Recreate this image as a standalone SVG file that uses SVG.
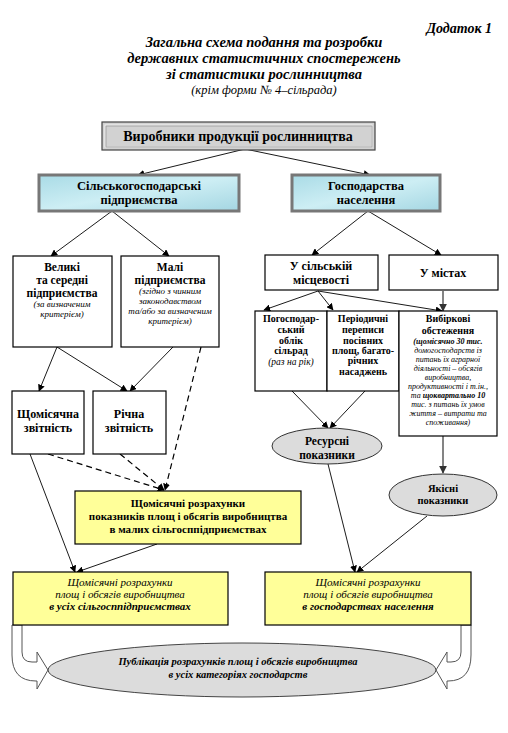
<svg xmlns="http://www.w3.org/2000/svg" width="508" height="733" viewBox="0 0 508 733" font-family="'Liberation Serif', 'DejaVu Serif', serif">
<defs>
<style>
text{font-family:"Liberation Serif","DejaVu Serif",serif;fill:#000;text-anchor:middle}
.t{font-weight:bold;font-style:italic;font-size:14.5px}
.b{font-weight:bold}
.i{font-style:italic}
.box{fill:#fff;stroke:#000;stroke-width:1.2}
.yel{fill:#ffff99;stroke:#000;stroke-width:1.2}
.ell{fill:#dcdcdc;stroke:#333;stroke-width:1}
.ln{fill:none;stroke:#000;stroke-width:0.9}
.dash{fill:none;stroke:#000;stroke-width:1.2;stroke-dasharray:6 4}
.gray{fill:none;stroke:#777;stroke-width:1.8}
.barrow{fill:#fff;stroke:#555;stroke-width:1}
</style>
<linearGradient id="water" x1="0" y1="0" x2="1" y2="1">
<stop offset="0" stop-color="#a9dbe6"/>
<stop offset="0.5" stop-color="#cdeef4"/>
<stop offset="1" stop-color="#a4d6e2"/>
</linearGradient>
<marker id="ah" viewBox="0 0 10 10" refX="9" refY="5" markerWidth="7" markerHeight="7" markerUnits="userSpaceOnUse" orient="auto">
<path d="M0,0 L10,5 L0,10 Z" fill="#000"/>
</marker>
<marker id="ahg" viewBox="0 0 10 10" refX="9" refY="5" markerWidth="8" markerHeight="8" markerUnits="userSpaceOnUse" orient="auto">
<path d="M0,0 L10,5 L0,10 Z" fill="#333"/>
</marker>
</defs>
<rect width="508" height="733" fill="#fff"/>

<g id="title">
<text x="492" y="33" style="text-anchor:end;font-weight:bold;font-style:italic;font-size:14px">Додаток 1</text>
<text class="t" x="264" y="47">Загальна схема подання та розробки</text>
<text class="t" x="264" y="63">державних статистичних спостережень</text>
<text class="t" x="264" y="79">зі статистики рослинництва</text>
<text class="i" x="264" y="94" style="font-size:12.5px">(крім форми № 4–сільрада)</text>
</g>

<g id="connectors">
<line class="ln" x1="245" y1="149" x2="138" y2="175" marker-end="url(#ah)"/>
<line class="ln" x1="245" y1="149" x2="370" y2="175" marker-end="url(#ah)"/>
<line class="ln" x1="112" y1="211" x2="51" y2="256" marker-end="url(#ah)"/>
<line class="ln" x1="112" y1="211" x2="169" y2="256" marker-end="url(#ah)"/>
<line class="ln" x1="368" y1="211" x2="312" y2="255" marker-end="url(#ah)"/>
<line class="ln" x1="368" y1="211" x2="441" y2="255" marker-end="url(#ah)"/>
<line class="ln" x1="318" y1="291" x2="264" y2="310" marker-end="url(#ah)"/>
<line class="ln" x1="318" y1="291" x2="333" y2="310" marker-end="url(#ah)"/>
<line class="ln" x1="318" y1="291" x2="442" y2="311" marker-end="url(#ah)"/>
<line class="gray" x1="443" y1="291" x2="443" y2="311" marker-end="url(#ahg)"/>
<line class="ln" x1="57" y1="347" x2="39" y2="391" marker-end="url(#ah)"/>
<line class="ln" x1="57" y1="347" x2="127" y2="391" marker-end="url(#ah)"/>
<line class="ln" x1="173" y1="347" x2="130" y2="391" marker-end="url(#ah)"/>
<line class="dash" x1="201" y1="347" x2="165" y2="490" marker-end="url(#ah)"/>
<line class="dash" x1="48" y1="454" x2="164" y2="490" marker-end="url(#ah)"/>
<line class="dash" x1="120" y1="454" x2="164" y2="490" marker-end="url(#ah)"/>
<line class="ln" x1="30" y1="454" x2="75" y2="572" marker-end="url(#ah)"/>
<line class="ln" x1="157" y1="544" x2="77" y2="572" marker-end="url(#ah)"/>
<line class="ln" x1="292" y1="391" x2="328" y2="428" marker-end="url(#ah)"/>
<line class="ln" x1="365" y1="391" x2="330" y2="428" marker-end="url(#ah)"/>
<line class="gray" x1="443" y1="436" x2="443" y2="473" marker-end="url(#ahg)"/>
<line class="ln" x1="328" y1="464" x2="355" y2="572" marker-end="url(#ah)"/>
<line class="ln" x1="427" y1="516" x2="357" y2="572" marker-end="url(#ah)"/>
<path class="barrow" d="M12,625 L12,655 Q12,681 36,681 L37,681 L37,689 L48,670 L37,652 L37,662 L32,662 Q22,662 22,652 L22,625 Z"/>
<path class="barrow" d="M471,625 L471,655 Q471,681 448,681 L447,681 L447,689 L436,670 L447,652 L447,662 L451,662 Q461,662 461,652 L461,625 Z"/>
</g>

<g id="producers">
<rect x="102" y="122" width="273" height="28" fill="#d2d2d2" stroke="#444" stroke-width="1.2"/>
<rect x="105" y="125" width="267" height="22" fill="none" stroke="#f2f2f2" stroke-width="1"/>
<rect x="106" y="126" width="266" height="21" fill="none" stroke="#888" stroke-width="0.6"/>
<text class="b" x="238" y="141" style="font-size:14px">Виробники продукції рослинництва</text>
</g>

<g id="agri">
<rect x="39" y="175" width="200" height="36" fill="url(#water)" stroke="#777" stroke-width="3"/>
<text class="b" x="139" y="190" style="font-size:12.5px">Сільськогосподарські</text>
<text class="b" x="139" y="204" style="font-size:12.5px">підприємства</text>
</g>

<g id="households">
<rect x="292" y="175" width="148" height="36" fill="url(#water)" stroke="#777" stroke-width="3"/>
<text class="b" x="366" y="190" style="font-size:12.5px">Господарства</text>
<text class="b" x="366" y="204" style="font-size:12.5px">населення</text>
</g>

<g id="large">
<rect class="box" x="13" y="256" width="99" height="91"/>
<text class="b" x="62" y="271" style="font-size:11.5px">Великі</text>
<text class="b" x="62" y="284" style="font-size:11.5px">та середні</text>
<text class="b" x="62" y="297" style="font-size:11.5px">підприємства</text>
<text class="i" x="62" y="307" style="font-size:9px">(за визначеним</text>
<text class="i" x="62" y="317" style="font-size:9px">критерієм)</text>
</g>

<g id="small">
<rect class="box" x="121" y="256" width="98" height="91"/>
<text class="b" x="170" y="271" style="font-size:11.5px">Малі</text>
<text class="b" x="170" y="284" style="font-size:11.5px">підприємства</text>
<text class="i" x="170" y="294" style="font-size:9px">(згідно з чинним</text>
<text class="i" x="170" y="304" style="font-size:9px">законодавством</text>
<text class="i" x="170" y="314" style="font-size:9px">та/або за визначеним</text>
<text class="i" x="170" y="324" style="font-size:9px">критерієм)</text>
</g>

<g id="rural">
<rect class="box" x="265" y="255" width="113" height="35"/>
<text class="b" x="321" y="270" style="font-size:12px">У сільській</text>
<text class="b" x="321" y="284" style="font-size:12px">місцевості</text>
</g>

<g id="urban">
<rect class="box" x="389" y="255" width="109" height="35"/>
<text class="b" x="443" y="277" style="font-size:12px">У містах</text>
</g>

<g id="farmrecord">
<rect class="box" x="255" y="311" width="72" height="80"/>
<text class="b" x="291" y="322" style="font-size:10px">Погосподар-</text>
<text class="b" x="291" y="333" style="font-size:10px">ський</text>
<text class="b" x="291" y="344" style="font-size:10px">облік</text>
<text class="b" x="291" y="354" style="font-size:10px">сільрад</text>
<text class="i" x="291" y="365" style="font-size:9.5px">(раз на рік)</text>
</g>

<g id="census">
<rect class="box" x="327" y="311" width="72" height="80"/>
<text class="b" x="363" y="322" style="font-size:10px">Періодичні</text>
<text class="b" x="363" y="333" style="font-size:10px">переписи</text>
<text class="b" x="363" y="344" style="font-size:10px">посівних</text>
<text class="b" x="363" y="354" style="font-size:10px">площ, багато-</text>
<text class="b" x="363" y="364" style="font-size:10px">річних</text>
<text class="b" x="363" y="375" style="font-size:10px">насаджень</text>
</g>

<g id="survey">
<rect class="box" x="399" y="311" width="98" height="125"/>
<text class="b" x="448" y="322" style="font-size:10px">Вибіркові</text>
<text class="b" x="448" y="334" style="font-size:10px">обстеження</text>
<g class="i" style="font-size:8px">
<text x="448" y="344"><tspan class="b">(щомісячно 30 тис.</tspan></text>
<text x="448" y="353">домогосподарств із</text>
<text x="448" y="362">питань їх аграрної</text>
<text x="448" y="371">діяльності – обсягів</text>
<text x="448" y="380">виробництва,</text>
<text x="448" y="389">продуктивності і т.ін.,</text>
<text x="448" y="398">та <tspan class="b">щоквартально 10</tspan></text>
<text x="448" y="407">тис. з питань їх умов</text>
<text x="448" y="416">життя – витрати та</text>
<text x="448" y="425">споживання)</text>
</g>
</g>

<g id="monthly">
<rect class="box" x="12" y="391" width="72" height="63"/>
<text class="b" x="48" y="418" style="font-size:12px">Щомісячна</text>
<text class="b" x="48" y="432" style="font-size:12px">звітність</text>
</g>

<g id="annual">
<rect class="box" x="93" y="391" width="73" height="63"/>
<text class="b" x="129" y="418" style="font-size:12px">Річна</text>
<text class="b" x="129" y="432" style="font-size:12px">звітність</text>
</g>

<g id="resource">
<ellipse class="ell" cx="327" cy="446" rx="55" ry="18"/>
<text class="b" x="327" y="445" style="font-size:11.5px">Ресурсні</text>
<text class="b" x="327" y="459" style="font-size:11.5px">показники</text>
</g>

<g id="quality">
<ellipse class="ell" cx="443" cy="495" rx="54" ry="21"/>
<text class="b" x="443" y="492" style="font-size:10.5px">Якісні</text>
<text class="b" x="443" y="504" style="font-size:10.5px">показники</text>
</g>

<g id="smallcalc">
<rect class="yel" x="75" y="491" width="226" height="53"/>
<text class="b" x="188" y="507" style="font-size:11px">Щомісячні розрахунки</text>
<text class="b" x="188" y="520" style="font-size:11px">показників площ і обсягів виробництва</text>
<text class="b" x="188" y="533" style="font-size:11px">в малих сільгосппідприємствах</text>
</g>

<g id="allagri">
<rect class="yel" x="13" y="572" width="215" height="53"/>
<text class="i" x="120" y="586" style="font-size:11px">Щомісячні розрахунки</text>
<text class="i" x="120" y="598" style="font-size:11px">площ і обсягів виробництва</text>
<text class="i b" x="120" y="610" style="font-size:11px">в усіх сільгосппідприємствах</text>
</g>

<g id="hhcalc">
<rect class="yel" x="265" y="572" width="206" height="53"/>
<text class="i" x="368" y="586" style="font-size:11px">Щомісячні розрахунки</text>
<text class="i" x="368" y="598" style="font-size:11px">площ і обсягів виробництва</text>
<text class="i b" x="368" y="610" style="font-size:11px">в господарствах населення</text>
</g>

<g id="publication">
<ellipse class="ell" cx="242" cy="670" rx="194" ry="27" style="stroke:#444"/>
<text class="i b" x="238" y="665" style="font-size:10.5px">Публікація  розрахунків площ і обсягів виробництва</text>
<text class="i b" x="238" y="678" style="font-size:10.5px">в усіх категоріях господарств</text>
</g>
</svg>
